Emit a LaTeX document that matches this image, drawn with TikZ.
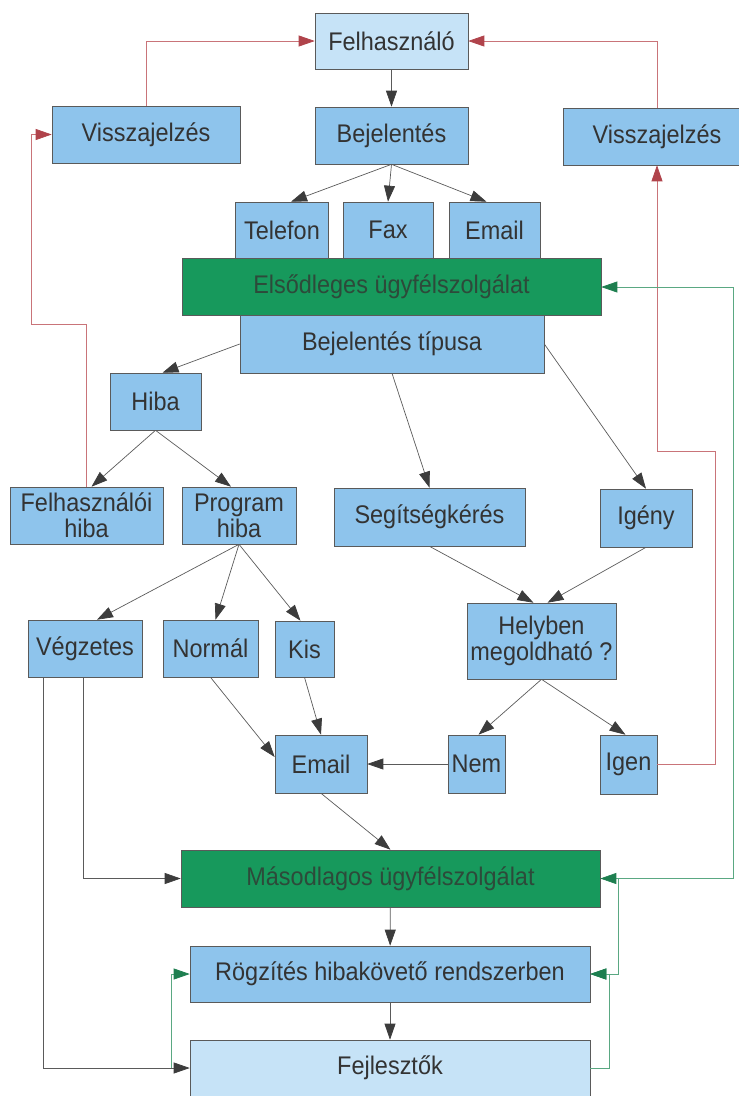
\documentclass[tikz,border=0pt]{standalone}
\usepackage{fontspec}
\setmainfont[FakeStretch=0.92]{Liberation Sans}
\usetikzlibrary{calc, arrows.meta, positioning}
\definecolor{boxblue}{HTML}{8EC4EC}
\definecolor{boxlight}{HTML}{C6E3F7}
\definecolor{boxgreen}{HTML}{17995C}
\definecolor{linegray}{HTML}{5A5A5A}
\definecolor{tipgray}{HTML}{3C3C3C}
\definecolor{linered}{HTML}{C97479}
\definecolor{tipred}{HTML}{B0434B}
\definecolor{linegreen}{HTML}{5AA882}
\definecolor{tipgreen}{HTML}{1E7F50}
\definecolor{txtgray}{HTML}{333333}
\definecolor{txtgreen}{HTML}{2D4A3A}
\tikzstyle{box} = [draw=linegray, line width=0.6pt, fill=boxblue, text=txtgray, inner sep=0pt, align=center, font=\fontsize{25.5}{26}\selectfont]
\tikzstyle{lightbox} = [box, fill=boxlight]
\tikzstyle{greenbox} = [box, fill=boxgreen, text=txtgreen]
\tikzstyle{line} = [draw=linegray, line width=0.7pt, -{Triangle[length=16pt,width=11pt,color=tipgray]}]
\tikzstyle{redline} = [draw=linered, line width=0.7pt, -{Triangle[length=16pt,width=11pt,color=tipred]}]
\tikzstyle{greenline} = [draw=linegreen, line width=0.7pt, -{Triangle[length=16pt,width=11pt,color=tipgreen]}]

\begin{document}
\begin{tikzpicture}[x=1pt, y=-1pt]
\useasboundingbox (0,0) rectangle (739,1096);

% Draw light boxes
\node[lightbox, minimum width=153pt, minimum height=56pt] (felh) at (391.5,41) {Felhasználó};
\node[lightbox, minimum width=400pt, minimum height=56pt] (fejl) at (390,1068) {Fejlesztők};

% Draw blue boxes
\foreach \name/\x/\y/\w/\h/\txt in {vissza1/146/134.5/188/57/{Visszajelzés},
                                   bej/391.5/135.5/153/57/{Bejelentés},
                                   vissza2/657/136.5/188/57/{Visszajelzés},
                                   telefon/282/230/93/56/{Telefon},
                                   fax/388/230/90/56/{Fax},
                                   email1/494.5/230/91/56/{Email},
                                   tipus/392/344/304/58/{Bejelentés típusa},
                                   hiba/155.5/401.5/91/57/{Hiba},
                                   felhhiba/86.5/515.5/153/57/{Felhasználói\\hiba},
                                   proghiba/239/515.5/114/57/{Program\\hiba},
                                   segit/429.5/517/191/58/{Segítségkérés},
                                   igeny/646/518/92/58/{Igény},
                                   vegz/85/648.5/114/57/{Végzetes},
                                   normal/210.5/648.5/95/57/{Normál},
                                   kis/304.5/649/59/56/{Kis},
                                   helyben/541.5/641/149/76/{Helyben\\megoldható ?},
                                   email2/321/764/92/58/{Email},
                                   nem/476.5/764/57/58/{Nem},
                                   igen/628.5/764.5/57/59/{Igen},
                                   rogz/390/974/400/56/{Rögzítés hibakövető rendszerben}}
    \node[box, minimum width=\w pt, minimum height=\h pt] (\name) at (\x,\y) {\txt};

% Draw green boxes
\foreach \name/\x/\y/\txt in {elso/391.5/287/{Elsődleges ügyfélszolgálat},
                             maso/390.5/878.5/{Másodlagos ügyfélszolgálat}}
    \node[greenbox, minimum width=419pt, minimum height=57pt] (\name) at (\x,\y) {\txt};

% Bend points
\coordinate (rbendl) at (31,324);
\coordinate (rbendr) at (715,451);
\coordinate (gjoin) at (618,878.5);
\coordinate (gright) at (733,878.5);
\coordinate (gjoinb) at (609,974);
\coordinate (gleft) at (171,1068);

% Gray arrows
\draw[line] (felh) -- (bej);
\foreach \t/\dx in {telefon/9, fax/0, email1/-8}
    \draw[line] (bej.south) -- ($(\t.north)+(\dx,0)$);
\draw[line] (tipus.west) -- ($(hiba.north)+(7,0)$);
\draw[line] (tipus.south) -- (segit.north);
\draw[line] (tipus.east) -- (igeny.north);
\foreach \t/\dx in {felhhiba/5, proghiba/-8}
    \draw[line] (hiba.south) -- ($(\t.north)+(\dx,0)$);
\foreach \t/\dx in {vegz/12, normal/5, kis/-4}
    \draw[line] (proghiba.south) -- ($(\t.north)+(\dx,0)$);
\draw[line] (segit.south) -- ($(helyben.north)+(-8,0)$);
\draw[line] (igeny.south) -- ($(helyben.north)+(6,0)$);
\foreach \t/\dx in {nem/2, igen/-3}
    \draw[line] (helyben.south) -- ($(\t.north)+(\dx,0)$);
\draw[line] (normal.south) -- ($(email2.west)+(0,-7)$);
\draw[line] (kis.south) -- (email2.north);
\draw[line] (nem) -- (email2);
\draw[line] (email2.south) -- (maso.north);
\draw[line] (maso) -- (rogz);
\draw[line] (rogz) -- (fejl);
\draw[line] ($(vegz.south)+(-2,0)$) |- (maso.west);
\draw[line] ($(vegz.south)+(-42,0)$) |- (fejl.west);

% Red feedback arrows
\draw[redline] (vissza1.north) |- (felh.west);
\draw[redline] (vissza2.north) |- (felh.east);
\draw[redline] (felhhiba.north) |- (rbendl) |- (vissza1.west);
\draw[redline] (igen.east) -| (rbendr) -| (vissza2.south);

% Green arrows
\draw[greenline] (gjoin) -- (gright) |- (elso.east);
\draw[greenline] (gjoin) -- (maso.east);
\draw[greenline] (gjoin) |- (rogz.east);
\draw[greenline] (fejl.east) -| (gjoinb) -- (rogz.east);
\draw[greenline] (gleft) |- (rogz.west);

\end{tikzpicture}
\end{document}
